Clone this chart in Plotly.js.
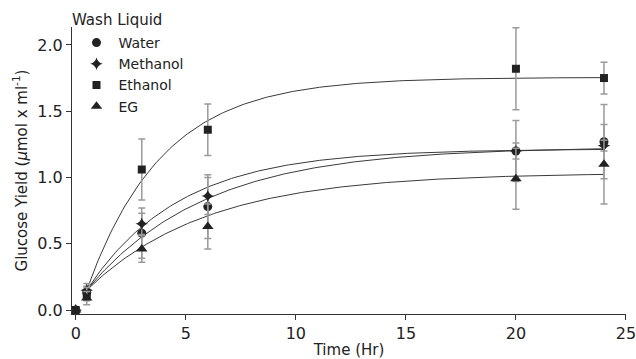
<!DOCTYPE html>
<html>
<head>
<meta charset="utf-8">
<script src="https://cdn.plot.ly/plotly-3.0.1.min.js"></script>
<style>html,body{margin:0;padding:0;background:#fff;}#chart{width:636px;height:359px;}</style>
</head>
<body>
<div id="chart"></div>
<script>
// Measured data (Time in hours)
const time = [0, 0.5, 3, 6, 20, 24];
const seriesNames = ["Water", "Methanol", "Ethanol", "EG"];
const water       = [0, 0.13, 0.58, 0.78, 1.20, 1.27];
const waterErr    = [null, 0.05, 0.19, 0.24, 0.23, 0.28];
const methanol    = [0, 0.15, 0.65, 0.86, 1.20, 1.24];
const methanolErr = [null, 0.05, 0.08, 0.14, 0.06, 0.04];
const ethanol     = [0, 0.12, 1.06, 1.36, 1.82, 1.75];
const ethanolErr  = [null, 0.05, 0.23, 0.195, 0.31, 0.12];
const eg          = [0, 0.09, 0.46, 0.63, 0.99, 1.10];
const egErr       = [null, 0.05, 0.10, 0.17, 0.23, 0.30];

// Fitted exponential-rise model parameters
const fitPlateau = [1.23, 1.215, 1.755, 1.035];
const fitRate    = [0.186, 0.238, 0.29, 0.183];
const fitStartY  = [0.15, 0.15, 0.15, 0.15];
const fitStartT  = 0.5;
const fitEndT    = 24;

const xTicks = [0, 5, 10, 15, 20, 25];
const yTicks = [0, 0.5, 1.0, 1.5, 2.0];
const yTickText = ["0.0", "0.5", "1.0", "1.5", "2.0"];
const legendTitle = "Wash Liquid";

const values = [water, methanol, ethanol, eg];
const errs = [waterErr, methanolErr, ethanolErr, egErr];
const symbols = ["circle", "star-diamond", "square", "triangle-up"];
const sizes = [9, 9, 8, 10];

const traces = [];
// fit curves
for (let s = 0; s < 4; s++) {
  const xs = [], ys = [];
  const n = 200;
  for (let i = 0; i <= n; i++) {
    const t = fitStartT + (fitEndT - fitStartT) * i / n;
    xs.push(t);
    ys.push(fitPlateau[s] - (fitPlateau[s] - fitStartY[s]) * Math.exp(-fitRate[s] * (t - fitStartT)));
  }
  traces.push({x: xs, y: ys, mode: "lines", type: "scatter", showlegend: false, hoverinfo: "skip",
    line: {color: "#3a3a3a", width: 1}});
}
// markers with error bars
for (let s = 0; s < 4; s++) {
  traces.push({
    x: time, y: values[s], type: "scatter", mode: "markers", name: seriesNames[s],
    marker: {symbol: symbols[s], size: sizes[s], color: "#222"},
    error_y: {type: "data", array: errs[s], visible: true, color: "#9a9a9a", thickness: 1.5, width: 3.5}
  });
}

const layout = {
  width: 636, height: 359,
  margin: {l: 72, r: 10, t: 27, b: 45},
  paper_bgcolor: "#fff", plot_bgcolor: "#fff",
  font: {family: "DejaVu Sans, Verdana, sans-serif", color: "#222", size: 15},
  xaxis: {
    range: [-0.17, 25.001], tickvals: xTicks, ticktext: xTicks.map(String),
    showgrid: false, zeroline: false, showline: true, linecolor: "#333", linewidth: 1,
    ticks: "outside", ticklen: 5, tickcolor: "#333", tickfont: {size: 16},
    ticklabeloverflow: "allow",
    title: {text: "Time (Hr)", font: {size: 15}, standoff: 2}
  },
  yaxis: {
    range: [-0.03, 2.135], tickvals: yTicks, ticktext: yTickText,
    showgrid: false, zeroline: false, showline: true, linecolor: "#333", linewidth: 1,
    ticks: "outside", ticklen: 5, tickcolor: "#333", tickfont: {size: 16},
    title: {text: "Glucose Yield (<i>μ</i>mol x ml<sup>-1</sup>)", font: {size: 15}, standoff: 6}
  },
  legend: {
    x: 0.0045, y: 1.0, xanchor: "left", yanchor: "top",
    bgcolor: "rgba(0,0,0,0)", font: {size: 14},
    tracegroupgap: 0, itemwidth: 34
  },
  annotations: [{
    text: legendTitle, xref: "paper", yref: "paper", x: -0.004, y: 1.024,
    xanchor: "left", yanchor: "middle", showarrow: false, font: {size: 15}
  }],
  showlegend: true
};

Plotly.newPlot("chart", traces, layout, {staticPlot: true, displayModeBar: false});
</script>
</body>
</html>
